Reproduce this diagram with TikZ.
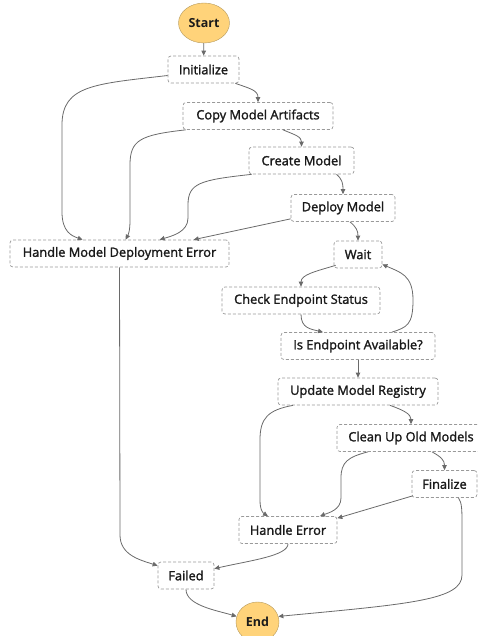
\documentclass[tikz,border=0pt]{standalone}
\usepackage{fontspec}
\setmainfont{Open Sans}
\newfontfamily\statefont[FakeBold=1.7]{Open Sans}
\usetikzlibrary{arrows.meta,shapes.geometric}
\definecolor{stategray}{HTML}{9A9A9A}
\definecolor{linegray}{HTML}{6A6A6A}
\definecolor{termfill}{HTML}{FFD37A}
\definecolor{termline}{HTML}{B59A5E}
\definecolor{txt}{HTML}{1A1A1A}

\begin{document}
\begin{tikzpicture}[x=1pt,y=-1pt,
  state/.style={draw=stategray,line width=0.7pt,dash pattern=on 3pt off 2pt,rounded corners=3pt,fill=white,
    minimum height=27pt,inner xsep=9pt,text=txt,font=\statefont\fontsize{12.8}{14}\selectfont},
  term/.style={ellipse,draw=termline,fill=termfill,text=txt,
    font=\fontsize{12.5}{14}\selectfont\bfseries,minimum height=40pt,inner sep=1pt},
  flow/.style={draw=linegray,line width=0.8pt,-{Triangle[length=5pt,width=4.5pt]}}]

\useasboundingbox (0,0) rectangle (478,636);

\node[term,minimum width=51pt] (S) at (204,23) {Start};
\node[state,minimum width=71pt] (I) at (203.5,69.5) {Initialize};
\node[state,minimum width=150pt] (C) at (258,116) {Copy Model Artifacts};
\node[state,minimum width=105pt] (CM) at (301.5,160.5) {Create Model};
\node[state,minimum width=104pt] (D) at (343,208) {Deploy Model};
\node[state,minimum width=48pt] (W) at (358,254.5) {Wait};
\node[state,minimum width=158pt] (CK) at (301,300.5) {Check Endpoint Status};
\node[state,minimum width=154pt] (IA) at (358,346) {Is Endpoint Available?};
\node[state,minimum width=160pt] (U) at (358,391.5) {Update Model Registry};
\node[state,minimum width=148pt] (CU) at (411,438) {Clean Up Old Models};
\node[state,minimum width=65pt] (F) at (444.5,484) {Finalize};
\node[state,minimum width=98pt] (HE) at (288,530) {Handle Error};
\node[state,minimum width=56pt] (FL) at (186,575.5) {Failed};
\node[term,minimum width=43pt] (E) at (257.5,622) {End};
\node[state,minimum width=219pt] (H) at (119.5,253.5) {Handle Model Deployment Error};

\draw[flow] (S) -- (I);
\draw[flow] ([xshift=-4pt]I.south east) .. controls +(14,5) and +(0,-12) .. (C.north);
\draw[flow] ([yshift=-6pt]I.west) .. controls (95,84) and (62,85) .. (62,125) -- (62,212)
  .. controls (62,232) and (72,236) .. ([xshift=73pt]H.north west);
\draw[flow] ([xshift=3pt]C.south west) .. controls (140,135) and (130,140) .. (130,165) -- (130,220)
  .. controls (130,232) and (128,235) .. ([xshift=116pt]H.north west);
\draw[flow] ([xshift=25pt]C.south) .. controls +(12,5) and +(0,-10) .. (CM.north);
\draw[flow] ([xshift=3pt]CM.south west) .. controls (200,180) and (188,183) .. (188,205) -- (188,218)
  .. controls (188,232) and (172,236) .. ([xshift=150pt]H.north west);
\draw[flow] ([xshift=35pt]CM.south) .. controls +(6,5) and +(0,-10) .. (D.north);
\draw[flow] ([yshift=3pt]D.south west) -- ([xshift=184pt]H.north west);
\draw[flow] ([xshift=7pt]D.south) .. controls +(6,5) and +(0,-10) .. (W.north);
\draw[flow] ([xshift=2pt,yshift=3pt]W.south west) .. controls +(-20,6) and +(0,-12) .. (CK.north);
\draw[flow] (CK.south) .. controls +(0,14) and +(-12,-3) .. ([xshift=-35pt]IA.north);
\draw[flow] ([xshift=34pt]IA.north) .. controls +(15,-5) and +(0,25) .. (413,300)
  .. controls +(0,-25) and +(18,8) .. ([yshift=4pt]W.south east);
\draw[flow] (IA.south) -- (U.north);
\draw[flow] ([xshift=-65pt]U.south) .. controls (268,410) and (260,418) .. (260,440) -- (260,500)
  .. controls (260,510) and (263,513) .. ([xshift=-20pt]HE.north);
\draw[flow] ([xshift=32pt]U.south) .. controls +(14,5) and +(0,-10) .. (CU.north);
\draw[flow] ([xshift=-43pt]CU.south) .. controls (348,457) and (341,462) .. (341,478) -- (341,498)
  .. controls (341,510) and (328,513) .. ([xshift=32pt]HE.north);
\draw[flow] ([xshift=21pt]CU.south) .. controls +(9,5) and +(0,-10) .. (F.north);
\draw[flow] ([xshift=1pt,yshift=2pt]F.south west) -- ([yshift=-2pt]HE.north east);
\draw[flow] ([xshift=14pt]F.south) .. controls (462,503) and (462,510) .. (462,525) -- (462,575)
  .. controls (462,600) and (410,604) .. (E.15);
\draw[flow] (H.south) -- (120,535) .. controls (120,555) and (140,560) .. ([yshift=-4pt]FL.north west);
\draw[flow] (HE.south) .. controls +(0,12) and +(35,-8) .. ([yshift=-7pt]FL.north east);
\draw[flow] (FL.south) .. controls +(0,16) and +(-20,-6) .. (E.165);

\end{tikzpicture}
\end{document}
